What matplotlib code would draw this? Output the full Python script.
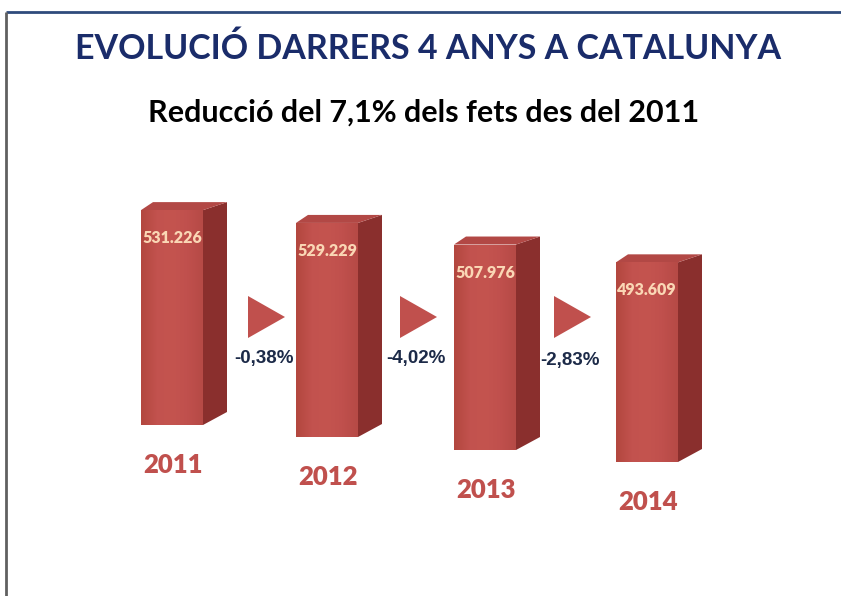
import numpy as np
import matplotlib
matplotlib.use("Agg")
import matplotlib.pyplot as plt
from matplotlib.patches import Polygon
from matplotlib.colors import LinearSegmentedColormap

# -- DATA --
years = ["2011", "2012", "2013", "2014"]
fets = [531226, 529229, 507976, 493609]
title = "EVOLUCIÓ DARRERS 4 ANYS A CATALUNYA"
subtitle = "Reducció del 7,1% dels fets des del 2011"

# -- LAYOUT (pixel space, y grows downwards) --
W, H = 841, 596
bar_x = [172, 327, 485, 647]        # centre of the front face
bar_base = [425, 437, 450, 462]     # bottom of each bar (staggered)
bar_w = 62
px_per_fet = 0.0004045              # bar height scale
dx, dy = 24, 8                      # depth of the 3d box
arrow_x = [266, 418, 572]
arrow_y = 317

red = "#c0504d"
side_col = "#8a2f2d"
top_col = "#b24845"
navy = "#1a2c6a"


def fmt_thousands(v):
    return f"{v:,}".replace(",", ".")


def fmt_pct(a, b):
    return f"{(b - a) / a * 100:.2f}%".replace(".", ",")


fig = plt.figure(figsize=(W / 100, H / 100), dpi=100)
ax = fig.add_axes([0, 0, 1, 1])
ax.set_xlim(0, W)
ax.set_ylim(H, 0)
ax.axis("off")

# slide frame
ax.plot([6, W], [12, 12], color="#2f4b7c", lw=2, solid_capstyle="butt")
ax.plot([6, 6], [12, H], color="#606060", lw=2, solid_capstyle="butt")

# titles
ax.text(428, 49, title, ha="center", va="center",
        fontsize=24.5, fontweight="bold", family="Lato", color=navy)
ax.text(424, 113, subtitle, ha="center", va="center",
        fontsize=22, fontweight="bold", family="Lato", color="black")

# bars: heights from the data, drawn upwards (negative height on inverted y)
heights = [-v * px_per_fet for v in fets]
bars = ax.bar(bar_x, heights, width=bar_w, bottom=bar_base,
              color=red, edgecolor="none", zorder=3)

shade = LinearSegmentedColormap.from_list(
    "front", ["#b3473f", "#c2524e", "#c4544f", "#c0504d", "#b64a46"])
grad = np.linspace(0, 1, 64).reshape(1, -1)

for b, v, yr in zip(bars, fets, years):
    x0, w = b.get_x(), b.get_width()
    yb = b.get_y()
    yt = yb + b.get_height()
    x1 = x0 + w
    # side face
    ax.add_patch(Polygon([(x1, yb), (x1 + dx, yb - dy - 5), (x1 + dx, yt - dy),
                          (x1, yt)], closed=True, fc=side_col, ec="none",
                         zorder=2))
    # top face
    ax.add_patch(Polygon([(x0, yt), (x0 + dx * 0.5, yt - dy), (x1 + dx, yt - dy),
                          (x1, yt)], closed=True, fc=top_col, ec="none",
                         zorder=2))
    # subtle shading on the front face
    im = ax.imshow(grad, cmap=shade, aspect="auto", extent=(x0, x1, yb, yt),
                   zorder=4)
    im.set_clip_path(b)
    # value inside the bar
    ax.text(x0 + w / 2, yt + 28, fmt_thousands(v), ha="center", va="center",
            fontsize=11.5, fontweight="heavy", family="Lato", color="#fad7b5",
            zorder=5)
    # year under the bar
    ax.text(x0 + w / 2 + 1, yb + 40, yr, ha="center", va="center",
            fontsize=18.5, fontweight="heavy", family="Lato", color=red)

# arrows with the change between consecutive years
for i, ax_c in enumerate(arrow_x):
    ax.add_patch(Polygon([(ax_c - 18, arrow_y - 21), (ax_c + 19, arrow_y),
                          (ax_c - 18, arrow_y + 21)], closed=True,
                         fc=red, ec="none", zorder=3))
    ax.text(ax_c - 2, arrow_y + 41 + (3 if i == 2 else 0),
            fmt_pct(fets[i], fets[i + 1]), ha="center", va="center",
            fontsize=13.5, fontweight="bold", family="Liberation Sans",
            color="#1c2a48")

fig.savefig("out.png", dpi=100)
